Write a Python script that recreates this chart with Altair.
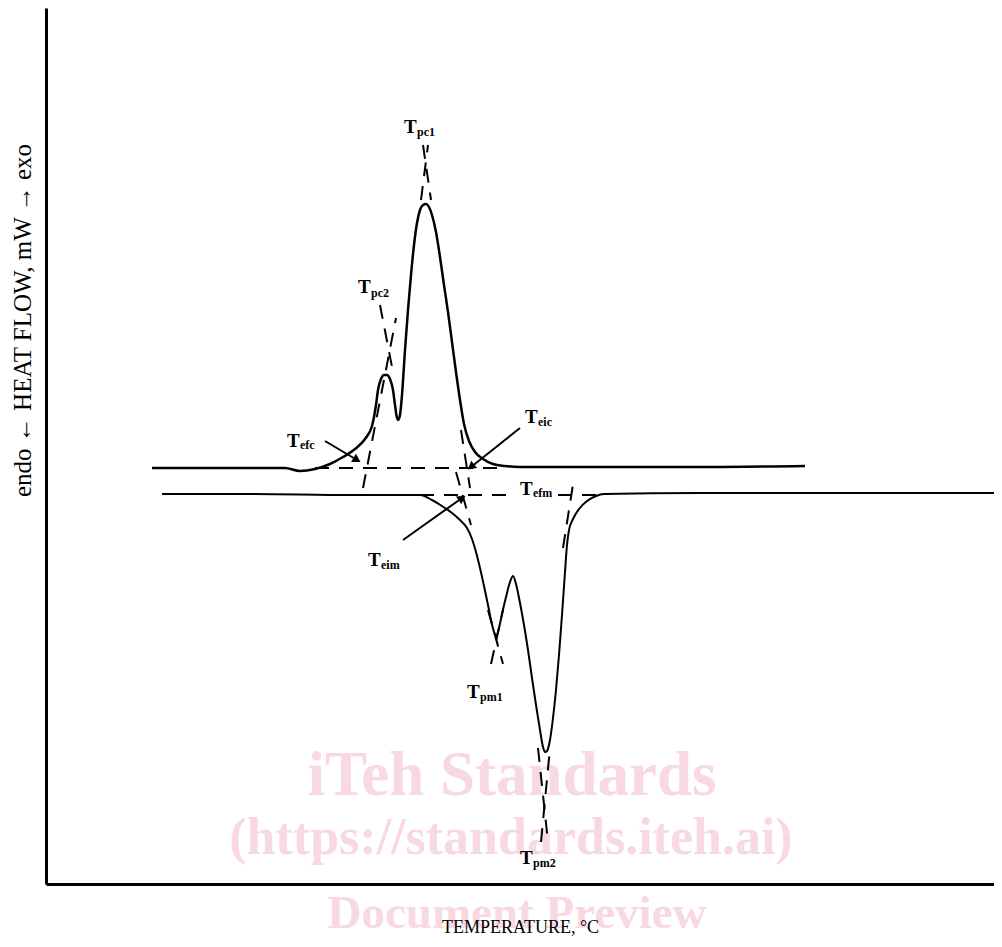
import altair as alt
import pandas as pd

# ---------------- data (temperature in arbitrary °C units, heat flow in mW) -------------
cool_T = [76, 100, 125, 142.5, 150, 157.5, 165, 171.5, 177.5, 182.5, 186, 188, 189, 190.5,
          192, 193.5, 195, 196.5, 197.5, 198.5, 199, 200, 201, 202.5, 204, 205.5, 207, 208.5,
          210, 211.5, 213, 214.5, 216, 218, 220, 222, 224, 226, 228, 230, 232, 234.5, 237.5,
          241.5, 246.5, 252.5, 260, 300, 350, 402.5]
cool_H = [3.2, 3.2, 3.2, 3.2, 2.9, 3.1, 3.6, 4.3, 5.1, 6.1, 7.4, 9.5, 11.0, 12.1,
          12.5, 12.5, 12.1, 11.0, 9.5, 8.2, 8.0, 8.5, 10.5, 15.0, 19.0, 22.5, 25.5, 27.7,
          29.0, 29.5, 29.6, 29.3, 28.5, 26.8, 24.3, 21.5, 18.8, 15.8, 12.8, 10.0, 7.6, 5.9, 4.8,
          4.1, 3.6, 3.4, 3.3, 3.3, 3.3, 3.4]

heat_T = [81, 125, 175, 210, 216, 221, 226, 230, 233.5, 236, 238, 240, 242, 244, 245.5, 247,
          248, 249.5, 251, 253, 255, 256.5, 258, 260, 262, 264, 266, 268, 270, 271.5, 272.5,
          273.5, 275, 276.5, 278, 279.5, 281, 282.5, 283.5, 284.5, 286.5, 289.5, 293.5, 298,
          302, 350, 425, 497]
heat_H = [0.6, 0.6, 0.5, 0.5, 0.0, -0.6, -1.3, -2.0, -2.8, -3.9, -5.2, -6.8, -8.6, -10.5, -12.0, -13.2,
          -13.6, -12.8, -11.4, -9.7, -8.2, -7.6, -8.4, -10.3, -12.5, -15.0, -17.8, -20.5, -23.0, -24.7, -25.2,
          -25.1, -24.0, -21.8, -19.0, -15.5, -11.5, -7.2, -4.5, -3.0, -1.9, -0.9, -0.1, 0.4,
          0.6, 0.7, 0.7, 0.7]

# dashed construction lines (baselines and tangents)
dash_seg = ["bc", "bc", "bh1", "bh1", "bh2", "bh2", "pc2a", "pc2a", "pc2b", "pc2b", "pc1a", "pc1a",
            "pc1b", "pc1b", "eic", "eic", "eim", "eim", "pm1a", "pm1a", "pm1b", "pm1b",
            "pm2a", "pm2a", "pm2b", "pm2b", "efm", "efm"]
dash_T = [157.5, 250, 210, 256, 279, 300, 181.5, 198, 190, 196.5, 210.5, 214,
          215.5, 211.5, 230.5, 235, 228, 235.5, 244, 251.5, 251.5, 245.5,
          269, 274, 275, 270.5, 287, 281.5]
dash_H = [3.2, 3.2, 0.5, 0.5, 0.5, 0.5, 1.2, 18.2, 19.5, 12.8, 30.0, 35.5,
          30.0, 35.5, 7.0, 1.2, 2.8, -2.5, -11.0, -16.4, -11.0, -16.4,
          -24.8, -34.2, -24.8, -34.2, 2.2, -4.8]

# pointer arrows
arrow_seg = ["efc", "efc", "eic", "eic", "eim", "eim"]
arrow_T = [162.5, 178.5, 260, 235.5, 201.5, 231]
arrow_H = [5.9, 4.0, 7.2, 3.3, -4.0, 0.2]
head_T = [178.5, 235.5, 231]
head_H = [4.0, 3.3, 0.2]
head_ang = [31, 141, 325]

# labels: "T" + subscript
lab_T = [202, 179, 143.5, 262.5, 260, 184, 233.5, 260]
lab_H = [36.7, 20.7, 5.3, 7.7, 0.5, -6.6, -19.8, -36.4]
sub_text = ["pc1", "pc2", "efc", "eic", "efm", "eim", "pm1", "pm2"]
sub_T = [208.5, 185.5, 150, 269, 266.5, 190.5, 240, 266.5]
sub_H = [36.4, 20.3, 5.1, 7.4, 0.3, -6.9, -20.1, -36.7]

wm_text = ["iTeh Standards", "(https://standards.iteh.ai)", "Document Preview"]
wm_T = [256, 255.5, 258.5]
wm_H = [-29.5, -35.4, -42.8]
wm_size = [63, 52, 47]

# ---------------- chart ----------------
SERIF = "Liberation Serif"
x = alt.X("T:Q", scale=alt.Scale(domain=[23, 497], nice=False, zero=False),
          axis=alt.Axis(title="TEMPERATURE, °C", labels=False, ticks=False, grid=False,
                        domainWidth=3, domainColor="black", zindex=1,
                        titleFont=SERIF, titleFontSize=18, titleFontWeight="normal",
                        titleColor="black", titlePadding=34))
y = alt.Y("H:Q", scale=alt.Scale(domain=[-38.4, 49.2], nice=False, zero=False),
          axis=alt.Axis(title="endo ← HEAT FLOW, mW → exo", labels=False, ticks=False, grid=False,
                        domainWidth=3, domainColor="black", zindex=1,
                        titleFont=SERIF, titleFontSize=25, titleFontWeight="normal",
                        titleColor="black", titlePadding=11, titleY=312))

wm = alt.Chart(pd.DataFrame({"T": wm_T, "H": wm_H, "txt": wm_text, "fs": wm_size})).mark_text(
    font=SERIF, fontWeight="bold", color="#f8d9e2", align="center",
    baseline="alphabetic").encode(x=x, y=y, text="txt:N", size=alt.Size("fs:Q", scale=None))

cool = alt.Chart(pd.DataFrame({"T": cool_T, "H": cool_H})).mark_line(
    color="black", strokeWidth=2.5, interpolate="monotone").encode(x=x, y=y)
heat = alt.Chart(pd.DataFrame({"T": heat_T, "H": heat_H})).mark_line(
    color="black", strokeWidth=2.0, interpolate="monotone").encode(x=x, y=y)

dashes = alt.Chart(pd.DataFrame({"seg": dash_seg, "T": dash_T, "H": dash_H})).mark_line(
    color="black", strokeWidth=2, strokeDash=[14, 10]).encode(x=x, y=y, detail="seg:N")

arrows = alt.Chart(pd.DataFrame({"seg": arrow_seg, "T": arrow_T, "H": arrow_H})).mark_line(
    color="black", strokeWidth=2).encode(x=x, y=y, detail="seg:N")
heads = alt.Chart(pd.DataFrame({"T": head_T, "H": head_H, "ang": head_ang})).mark_point(
    shape="triangle-right", filled=True, size=90, color="black", opacity=1).encode(
    x=x, y=y, angle=alt.Angle("ang:Q", scale=None))

labT = alt.Chart(pd.DataFrame({"T": lab_T, "H": lab_H, "txt": ["T"] * len(lab_T)})).mark_text(
    font=SERIF, fontSize=19, fontWeight="bold", color="black", align="left",
    baseline="alphabetic").encode(x=x, y=y, text="txt:N")
labS = alt.Chart(pd.DataFrame({"T": sub_T, "H": sub_H, "txt": sub_text})).mark_text(
    font=SERIF, fontSize=12, fontWeight="bold", color="black", align="left",
    baseline="alphabetic").encode(x=x, y=y, text="txt:N")

chart = alt.layer(wm, dashes, cool, heat, arrows, heads, labT, labS).properties(
    width=948, height=876,
    autosize=alt.AutoSizeParams(type="none"),
    padding={"left": 38, "top": 0, "right": 0, "bottom": 55},
    background="white",
).configure_view(stroke=None)

chart.save("out.html", embed_options={"renderer": "svg", "actions": False})
